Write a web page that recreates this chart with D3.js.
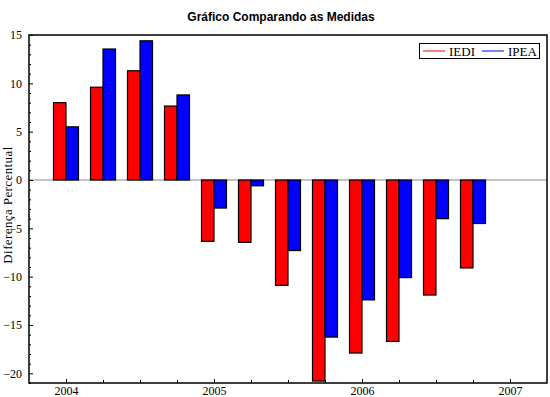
<!doctype html>
<html lang="pt">
<head>
  <meta charset="utf-8">
  <title>Gráfico Comparando as Medidas</title>
  <style>
    body { margin: 0; background: #fff; }
  </style>
  <script src="https://cdn.jsdelivr.net/npm/d3@7"></script>
</head>
<body>
  <div id="chart"></div>
  <script>
  // trimestres (2004 T1 .. 2006 T4) e diferenças percentuais
  var periods = [2004, 2004.25, 2004.5, 2004.75, 2005, 2005.25, 2005.5, 2005.75, 2006, 2006.25, 2006.5, 2006.75];
  var iedi = [8.0, 9.6, 11.3, 7.65, -6.35, -6.45, -10.9, -20.8, -17.9, -16.7, -11.9, -9.1];
  var ipea = [5.5, 13.55, 14.4, 8.8, -2.9, -0.6, -7.3, -16.25, -12.4, -10.1, -4.0, -4.5];
  var yearTicks = [2004, 2005, 2006, 2007];
  var yTicks = [-20, -15, -10, -5, 0, 5, 10, 15];

  var serif = "'Liberation Serif', 'Times New Roman', serif";
  var width = 550, height = 397;
  var margin = {top: 35, right: 3, bottom: 14, left: 29};

  var svg = d3.select("#chart").append("svg")
      .attr("width", width)
      .attr("height", height);

  var x = d3.scaleLinear().domain([2003.75, 2007.25]).range([margin.left, width - margin.right]);
  var y = d3.scaleLinear().domain([-21, 15]).range([height - margin.bottom, margin.top]);
  var barW = 12.5;

  // title
  svg.append("text")
      .attr("x", 281).attr("y", 21)
      .attr("text-anchor", "middle")
      .style("font-family", "'Liberation Sans', Arial, sans-serif")
      .style("font-weight", "bold")
      .style("font-size", "12px")
      .text("Gráfico Comparando as Medidas");

  // zero line
  svg.append("line")
      .attr("x1", x.range()[0]).attr("x2", x.range()[1])
      .attr("y1", y(0)).attr("y2", y(0))
      .attr("stroke", "#888").attr("stroke-width", 1);

  // bars
  var series = [{name: "IEDI", vals: iedi, color: "#ff0000", off: -1},
                {name: "IPEA", vals: ipea, color: "#0000ff", off: 0}];
  series.forEach(function(s) {
    svg.append("g").selectAll("rect")
      .data(s.vals)
      .enter().append("rect")
        .attr("x", function(d, i) { return x(periods[i]) + s.off * barW; })
        .attr("width", barW)
        .attr("y", function(d) { return Math.min(y(d), y(0)); })
        .attr("height", function(d) { return Math.abs(y(d) - y(0)); })
        .attr("fill", s.color)
        .attr("stroke", "#000")
        .attr("stroke-width", 1.2);
  });

  // axes
  svg.append("g")
      .attr("transform", "translate(" + margin.left + ",0)")
      .call(d3.axisLeft(y).tickValues(yTicks).tickSize(-4).tickPadding(7).tickFormat(d3.format("d")));
  svg.append("g")
      .attr("transform", "translate(" + margin.left + ",0)")
      .call(d3.axisLeft(y).tickValues(d3.range(-21, 16).filter(function(v) { return v % 5 !== 0; }))
        .tickSize(-2).tickFormat(""));

  svg.append("g")
      .attr("transform", "translate(0," + (height - margin.bottom) + ")")
      .call(d3.axisBottom(x).tickValues(yearTicks).tickSize(-4).tickPadding(3).tickFormat(d3.format("d")));
  svg.append("g")
      .attr("transform", "translate(0," + (height - margin.bottom) + ")")
      .call(d3.axisBottom(x).tickValues(d3.range(2004, 2007.25, 0.25).filter(function(v) { return v % 1 !== 0; }))
        .tickSize(-3).tickFormat(""));

  svg.selectAll(".domain").remove();
  svg.selectAll(".tick line").attr("stroke", "#000");
  svg.selectAll(".tick text")
      .attr("fill", "#000")
      .style("font-family", serif)
      .style("font-size", "12px");

  // frame
  svg.append("rect")
      .attr("x", margin.left).attr("y", margin.top)
      .attr("width", x.range()[1] - margin.left)
      .attr("height", y.range()[0] - margin.top)
      .attr("fill", "none").attr("stroke", "#000").attr("stroke-width", 1.5);

  // y label
  svg.append("text")
      .attr("transform", "translate(12,205) rotate(-90)")
      .attr("text-anchor", "middle")
      .style("font-family", serif)
      .style("font-size", "13px")
      .style("letter-spacing", "0.4px")
      .text("Diferença Percentual");

  // legend
  var lg = svg.append("g");
  lg.append("rect")
      .attr("x", 419.5).attr("y", 43.5).attr("width", 120).attr("height", 15)
      .attr("fill", "#fff").attr("stroke", "#000");
  series.forEach(function(s, i) {
    var lx = 423 + i * 59;
    lg.append("line")
        .attr("x1", lx).attr("x2", lx + 22)
        .attr("y1", 51).attr("y2", 51)
        .attr("stroke", s.color).attr("stroke-width", 1);
    lg.append("text")
        .attr("x", lx + 26).attr("y", 56)
        .style("font-family", serif)
        .style("font-size", "13px")
        .text(s.name);
  });
  </script>
</body>
</html>
